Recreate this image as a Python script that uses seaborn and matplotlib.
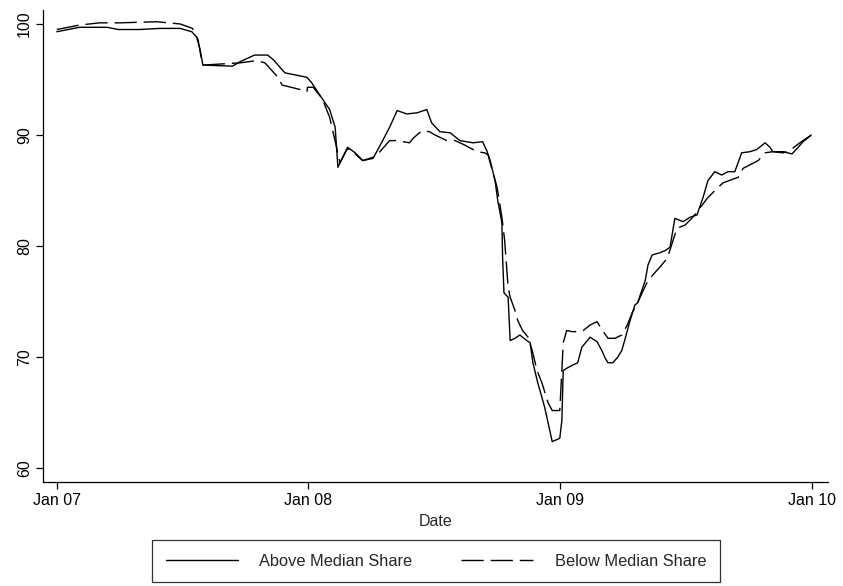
import matplotlib
matplotlib.use("Agg")
import matplotlib.pyplot as plt
import matplotlib.dates as mdates
from matplotlib.lines import Line2D
import seaborn as sns
import pandas as pd
import numpy as np

# days since 2007-01-01 and index values
above_days = [0, 33, 73, 89, 120, 150, 179, 196, 203, 208, 212, 255, 266, 287, 306, 314, 331,
              363, 370, 386, 396, 404, 408, 422, 433, 444, 459, 473, 483, 494, 508, 523, 537,
              544, 556, 571, 585, 604, 618, 624, 629, 636, 640, 646, 647, 649, 655, 658, 665,
              672, 682, 687, 691, 698, 704, 708, 713, 719, 730, 733, 735, 740, 749, 756, 762,
              774, 784, 791, 796, 800, 807, 814, 820, 825, 832, 839, 843, 849, 854, 858, 864,
              875, 883, 890, 897, 909, 919, 929, 938, 945, 955, 965, 974, 984, 994, 1006, 1016,
              1028, 1035, 1039, 1054, 1067, 1076, 1083, 1095]
above_vals = [99.3, 99.7, 99.7, 99.5, 99.5, 99.6, 99.6, 99.3, 98.8, 97.7, 96.3, 96.2, 96.6, 97.2,
              97.2, 96.8, 95.6, 95.2, 94.7, 93.2, 92.3, 90.7, 87.1, 88.9, 88.4, 87.7, 87.9, 89.5,
              90.7, 92.2, 91.9, 92.0, 92.3, 91.1, 90.3, 90.2, 89.5, 89.3, 89.4, 88.6, 87.7, 85.9,
              84.1, 82.1, 79.0, 75.8, 75.4, 71.5, 71.7, 72.0, 71.5, 71.3, 69.5, 67.7, 66.4, 65.5,
              64.1, 62.4, 62.7, 64.3, 68.8, 69.0, 69.3, 69.5, 70.9, 71.8, 71.4, 70.6, 69.9, 69.5,
              69.5, 70.0, 70.6, 71.7, 73.3, 74.7, 74.9, 76.0, 76.9, 78.3, 79.2, 79.4, 79.6, 79.9,
              82.5, 82.2, 82.6, 82.8, 84.4, 85.9, 86.7, 86.4, 86.7, 86.7, 88.4, 88.5, 88.7, 89.3,
              88.9, 88.5, 88.5, 88.3, 88.9, 89.4, 90.0]

below_days = [0, 33, 62, 91, 145, 179, 197, 205, 210, 213, 266, 290, 302, 321, 327, 353, 363,
              364, 372, 385, 396, 406, 411, 422, 433, 444, 459, 469, 483, 494, 512, 517, 530,
              541, 549, 556, 566, 578, 592, 610, 621, 626, 629, 639, 646, 650, 655, 658, 665,
              669, 676, 684, 690, 697, 704, 713, 719, 730, 733, 735, 740, 748, 756, 764, 774,
              784, 792, 800, 810, 820, 828, 835, 843, 851, 858, 865, 875, 886, 900, 912, 923,
              933, 944, 955, 967, 989, 996, 1018, 1028, 1039, 1054, 1064, 1074, 1083, 1095]
below_vals = [99.5, 99.9, 100.1, 100.1, 100.2, 100.0, 99.6, 98.6, 96.8, 96.3, 96.5, 96.7, 96.5,
              95.2, 94.5, 94.1, 93.9, 94.3, 94.3, 93.3, 91.6, 88.9, 87.5, 88.8, 88.3, 87.7, 88.0,
              88.5, 89.5, 89.5, 89.3, 89.7, 90.4, 90.3, 90.0, 89.8, 89.5, 89.5, 89.1, 88.5, 88.4,
              88.2, 87.5, 85.3, 82.6, 80.5, 76.3, 75.4, 74.2, 73.3, 72.4, 71.8, 70.6, 68.8, 67.7,
              65.9, 65.2, 65.2, 68.8, 71.3, 72.4, 72.3, 72.3, 72.4, 72.9, 73.2, 72.4, 71.7, 71.7,
              72.0, 72.9, 74.0, 74.9, 76.0, 76.9, 77.4, 78.1, 78.9, 81.6, 81.9, 82.6, 83.4, 84.3,
              85.0, 85.7, 86.2, 87.0, 87.7, 88.4, 88.5, 88.4, 88.6, 89.1, 89.5, 90.0]

series_names = ["Above Median Share", "Below Median Share"]
x_ticks = ["2007-01-01", "2008-01-01", "2009-01-01", "2010-01-01"]
y_ticks = [60, 70, 80, 90, 100]

start = pd.Timestamp("2007-01-01")
df = pd.concat([
    pd.DataFrame({"Date": start + pd.to_timedelta(above_days, unit="D"),
                  "value": above_vals, "series": series_names[0]}),
    pd.DataFrame({"Date": start + pd.to_timedelta(below_days, unit="D"),
                  "value": below_vals, "series": series_names[1]}),
], ignore_index=True)

sns.set_theme(style="ticks")
plt.rcParams["font.family"] = ["Liberation Sans", "DejaVu Sans"]

fig = plt.figure(figsize=(8.43, 5.86), dpi=100)
ax = fig.add_axes([0.051, 0.177, 0.931, 0.806])

dash_pat = (16, 5)
dash_map = {series_names[0]: "", series_names[1]: dash_pat}
sns.lineplot(data=df, x="Date", y="value", style="series", dashes=dash_map,
             color="black", linewidth=1.0, ax=ax, legend=False, sort=True,
             estimator=None)

ax.set_xlim(start - pd.Timedelta(days=20), start + pd.Timedelta(days=1119))
ax.set_ylim(58.74, 101.26)
ax.set_xticks(pd.to_datetime(x_ticks))
ax.xaxis.set_major_formatter(mdates.DateFormatter("%b %y"))
ax.set_yticks(y_ticks)
ax.set_ylabel("")
ax.set_xlabel("Date", fontsize=11.5, labelpad=4)
for lab in ax.get_yticklabels():
    lab.set_rotation(90)
    lab.set_va("center")
ax.tick_params(axis="both", labelsize=11.5, length=5, width=0.9, color="black",
               labelcolor="black", pad=3)
for s in ["top", "right"]:
    ax.spines[s].set_visible(False)
for s in ["left", "bottom"]:
    ax.spines[s].set_color("black")
    ax.spines[s].set_linewidth(0.9)

handles = [Line2D([], [], color="black", lw=1.0),
           Line2D([], [], color="black", lw=1.0, dashes=dash_pat)]
leg = fig.legend(handles, series_names, loc="lower center", ncol=2,
                 bbox_to_anchor=(0.517, 0.006), frameon=True, fancybox=False,
                 edgecolor="black", prop={"size": 11.8}, handlelength=4.4,
                 columnspacing=3.0, handletextpad=1.3, borderpad=0.85,
                 borderaxespad=0)
leg.get_frame().set_linewidth(0.9)

fig.savefig("out.png", dpi=100)
